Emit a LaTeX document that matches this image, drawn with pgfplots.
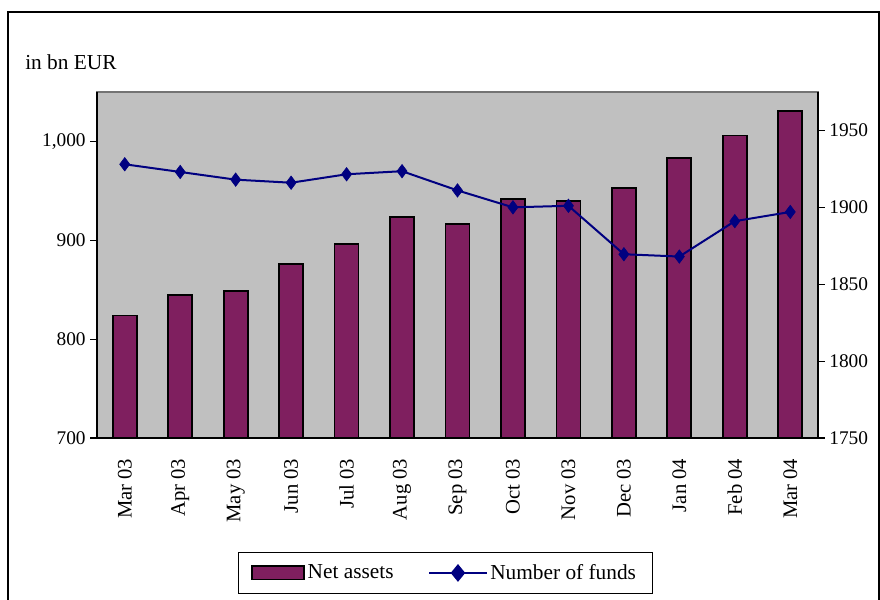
\documentclass[border=0pt]{standalone}
\usepackage{pgfplots}
\pgfplotsset{compat=1.18}
\usepackage{fontspec}
\setmainfont{Liberation Serif}
\definecolor{barc}{HTML}{7F1F5F}
\definecolor{linec}{HTML}{000080}
\definecolor{bgc}{HTML}{C0C0C0}
\begin{document}
\begin{tikzpicture}[font=\fontsize{14.5}{16}\selectfont]
\useasboundingbox (-72.75pt,-120.75pt) rectangle (587.25pt,328.5pt);
\draw[black, line width=0.8pt] (-66.75pt,-125pt) -- (-66.75pt,319.5pt) -- (586.5pt,319.5pt) -- (586.5pt,-125pt);
\node[anchor=base west, inner sep=0pt, font=\fontsize{16}{18}\selectfont] at (-54pt,276pt) {in bn EUR};
\begin{axis}[
  at={(0pt,0pt)}, anchor=south west,
  scale only axis, width=540.75pt, height=259.5pt,
  xmin=-0.5, xmax=12.5, ymin=700, ymax=1050,
  axis background/.style={fill=bgc, draw=black!55, line width=1.2pt},
  axis y line*=left, axis x line*=bottom,
  axis line style={black, line width=0.9pt, -},
  ytick={700,800,900,1000},
  /pgf/number format/1000 sep={,},
  /pgf/number format/assume math mode=true,
  tick align=outside, major tick length=5pt,
  tick style={black, line width=0.9pt},
  xtick={0,...,12},
  xticklabels={Mar 03,Apr 03,May 03,Jun 03,Jul 03,Aug 03,Sep 03,Oct 03,Nov 03,Dec 03,Jan 04,Feb 04,Mar 04},
  x tick style={draw=none},
  xticklabel style={rotate=90, anchor=east, yshift=0pt, xshift=-7pt, font=\fontsize{15.5}{17}\selectfont},
  extra x ticks={-0.5,0.5,...,12.5},
  extra x tick labels={},
  extra x tick style={tick style={draw=black, line width=0.9pt}, major tick length=5pt},
  ybar, bar width=18pt,
  clip=true,
]
\addplot[fill=barc, draw=black, line width=1.3pt] coordinates {
(0,824) (1,845) (2,849) (3,876) (4,896) (5,923.5) (6,916.5) (7,941.5) (8,940) (9,953) (10,983) (11,1006) (12,1031)};
\end{axis}
\begin{axis}[
  at={(0pt,0pt)}, anchor=south west,
  scale only axis, width=540.75pt, height=259.5pt,
  xmin=-0.5, xmax=12.5, ymin=1750, ymax=1975,
  axis y line*=right, axis x line=none,
  axis line style={black, line width=0.9pt, -},
  ytick={1750,1800,1850,1900,1950},
  /pgf/number format/1000 sep={},
  /pgf/number format/assume math mode=true,
  tick align=outside, major tick length=5pt,
  tick style={black, line width=0.9pt},
  legend style={at={(0.4827,-0.39)}, anchor=center, legend columns=2, draw=black, line width=0.6pt,
    /tikz/every even column/.append style={column sep=24pt}, inner xsep=10pt, inner ysep=7pt,
    font=\fontsize{16}{18}\selectfont},
  legend cell align=left,
]
\addlegendimage{legend image code/.code={\draw[fill=barc, draw=black, line width=1.3pt] (0pt,-5pt) rectangle (39pt,5pt);}}
\addlegendentry{Net assets}
\addplot[linec, line width=1.5pt, mark=diamond*, mark size=5pt, mark options={fill=linec, line width=0.5pt},
  legend image code/.code={\draw[linec, line width=1.5pt] (0pt,0pt) -- (43pt,0pt); \fill[linec] (21.5pt,0pt) ++(0,5.5pt) -- ++(4.5pt,-5.5pt) -- ++(-4.5pt,-5.5pt) -- ++(-4.5pt,5.5pt) -- cycle;}] coordinates {
(0,1928) (1,1923) (2,1918) (3,1916) (4,1921.5) (5,1923.5) (6,1911) (7,1900) (8,1901) (9,1869.5) (10,1868) (11,1891) (12,1897)};
\addlegendentry{Number of funds}
\end{axis}
\end{tikzpicture}
\end{document}
